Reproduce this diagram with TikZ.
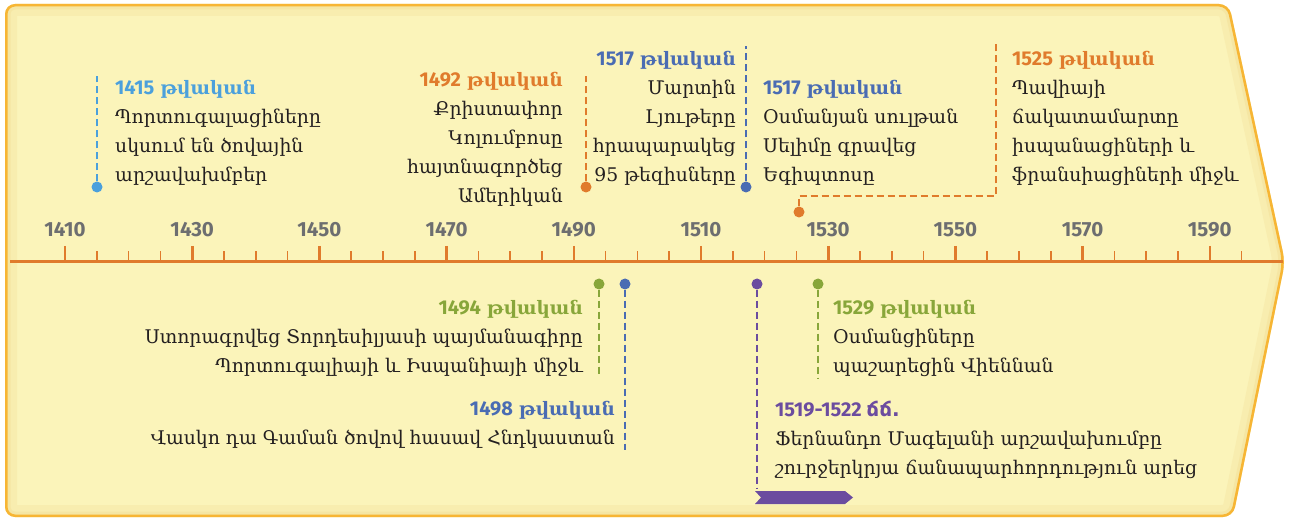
\documentclass[tikz,border=0pt]{standalone}
\usepackage{fontspec}
\setmainfont{DejaVu Serif}
\newfontfamily\numfont{Fira Sans}
\newfontfamily\armsans{DejaVu Sans}
\usetikzlibrary{calc}
\definecolor{bgfill}{HTML}{FBF4BA}
\definecolor{bgedge}{HTML}{F7B534}
\definecolor{bgshade}{HTML}{F3DE96}
\definecolor{axisc}{HTML}{E07B2C}
\definecolor{lblue}{HTML}{4BA0DC}
\definecolor{dblue}{HTML}{4A6CB3}
\definecolor{greenc}{HTML}{88A63A}
\definecolor{purplec}{HTML}{6B4C9F}
\definecolor{grayc}{HTML}{6D6E70}
\definecolor{textc}{HTML}{231F20}
\newcommand{\hdr}[1]{{\fontsize{20}{29}\selectfont\numfont\bfseries #1}}
\newcommand{\tv}{{\fontsize{18.5}{29}\selectfont\bfseries թվական}}
\tikzset{
  evt/.style={inner sep=0pt, text=textc, font=\fontsize{18.8}{29}\selectfont},
  yearlbl/.style={inner sep=0pt, text=grayc, font=\fontsize{20.5}{20.5}\selectfont\numfont\bfseries},
  pin/.style={dash pattern=on 7pt off 4pt, line width=2.6pt},
  dotc/.style={circle, inner sep=0pt, minimum size=11pt},
  majortick/.style={axisc, line width=2.6pt},
  minortick/.style={axisc, line width=1.5pt}
}
\begin{document}
\begin{tikzpicture}[x=1pt,y=-1pt]
\useasboundingbox (0,0) rectangle (1290,521);
% background
\path[fill=bgfill, rounded corners=10pt] (5,4) -- (1229,4) -- (1285,262) -- (1233,517) -- (5,517) -- cycle;
\begin{scope}
\clip[rounded corners=10pt] (5,4) -- (1229,4) -- (1285,262) -- (1233,517) -- (5,517) -- cycle;
\draw[bgshade, opacity=0.3, line width=24pt, rounded corners=10pt] (5,4) -- (1229,4) -- (1285,262) -- (1233,517) -- (5,517) -- cycle;
\draw[bgshade, opacity=0.45, line width=11pt, rounded corners=10pt] (5,4) -- (1229,4) -- (1285,262) -- (1233,517) -- (5,517) -- cycle;
\draw[bgedge, line width=5pt, rounded corners=10pt] (5,4) -- (1229,4) -- (1285,262) -- (1233,517) -- (5,517) -- cycle;
\end{scope}
% axis
\coordinate (axL) at (10,262);
\coordinate (axR) at (1283,262);
\draw[axisc, line width=3pt] (axL) -- (axR);
\foreach \yr in {1410,1415,...,1595}{
  \pgfmathsetmacro{\xx}{65+(\yr-1410)*6.36}
  \pgfmathtruncatemacro{\md}{mod(\yr-1410,20)}
  \ifnum\md=0
    \coordinate (tk\yr) at (\xx,246);
    \draw[majortick] (tk\yr) -- (\xx,263);
    \node[yearlbl] (yl\yr) at (\xx,230) {\yr};
  \else
    \coordinate (tk\yr) at (\xx,251.5);
    \draw[minortick] (tk\yr) -- (\xx,263);
  \fi
}
% ---- events above ----
% 1415
\node[dotc, fill=lblue] (d1415) at (97,187) {};
\coordinate (t1415) at (97,76);
\draw[pin, lblue] (d1415) -- (t1415);
\node[evt, anchor=north west, align=left] (e1415) at (115,80)
  {\textcolor{lblue}{\hdr{1415} \tv}\\Պորտուգալացիները\\սկսում են ծովային\\արշավախմբեր};
% 1492
\node[dotc, fill=axisc] (d1492) at (586,187) {};
\coordinate (t1492) at (586,76);
\draw[pin, axisc] (d1492) -- (t1492);
\node[evt, anchor=north east, align=right] (e1492) at (563,72)
  {\textcolor{axisc}{\hdr{1492} \tv}\\Քրիստափոր\\Կոլումբոսը\\հայտնագործեց\\Ամերիկան};
% 1517 Luther
\node[dotc, fill=dblue] (d1517) at (746,187) {};
\coordinate (t1517) at (746,46);
\draw[pin, dblue] (d1517) -- (t1517);
\node[evt, anchor=north east, align=right] (e1517a) at (736,51)
  {\textcolor{dblue}{\hdr{1517} \tv}\\Մարտին\\Լյութերը\\հրապարակեց\\95 թեզիսները};
% 1517 Selim
\node[evt, anchor=north west, align=left] (e1517b) at (763,80)
  {\textcolor{dblue}{\hdr{1517} \tv}\\Օսմանյան սուլթան\\Սելիմը գրավեց\\Եգիպտոսը};
% 1525
\node[dotc, fill=axisc] (d1525) at (799,212) {};
\coordinate (c1525a) at (799,196);
\coordinate (c1525b) at (996,196);
\coordinate (t1525) at (996,44);
\draw[pin, axisc] (d1525) -- (c1525a) -- (c1525b) -- (t1525);
\node[evt, anchor=north west, align=left] (e1525) at (1012,51)
  {\textcolor{axisc}{\hdr{1525} \tv}\\Պավիայի\\ճակատամարտը\\իսպանացիների և\\ֆրանսիացիների միջև};
% ---- events below ----
% 1494
\node[dotc, fill=greenc] (d1494) at (599,284) {};
\coordinate (b1494) at (599,377);
\draw[pin, greenc] (d1494) -- (b1494);
\node[evt, anchor=north east, align=right] (e1494) at (583,300)
  {\textcolor{greenc}{\hdr{1494} \tv}\\Ստորագրվեց Տորդեսիլյասի պայմանագիրը\\Պորտուգալիայի և Իսպանիայի միջև};
% 1498
\node[dotc, fill=dblue] (d1498) at (625,284) {};
\coordinate (b1498) at (625,450);
\draw[pin, dblue] (d1498) -- (b1498);
\node[evt, anchor=north east, align=right] (e1498) at (615,401)
  {\textcolor{dblue}{\hdr{1498} \tv}\\Վասկո դա Գաման ծովով հասավ Հնդկաստան};
% 1519-1522
\node[dotc, fill=purplec] (d1519) at (757,284) {};
\coordinate (b1519) at (757,489);
\draw[pin, purplec] (d1519) -- (b1519);
\node[evt, anchor=north west, align=left] (e1519) at (775,401)
  {\textcolor{purplec}{\hdr{1519-1522 {\armsans ճճ.}}}\\Ֆերնանդո Մագելանի արշավախումբը\\շուրջերկրյա ճանապարհորդություն արեց};
\fill[purplec] (755,491) -- (845,491) -- (853,497.5) -- (845,504) -- (755,504) -- (761,497.5) -- cycle;
% 1529
\node[dotc, fill=greenc] (d1529) at (818,284) {};
\coordinate (b1529) at (818,378);
\draw[pin, greenc] (d1529) -- (b1529);
\node[evt, anchor=north west, align=left] (e1529) at (833,300)
  {\textcolor{greenc}{\hdr{1529} \tv}\\Օսմանցիները\\պաշարեցին Վիեննան};
\end{tikzpicture}
\end{document}
